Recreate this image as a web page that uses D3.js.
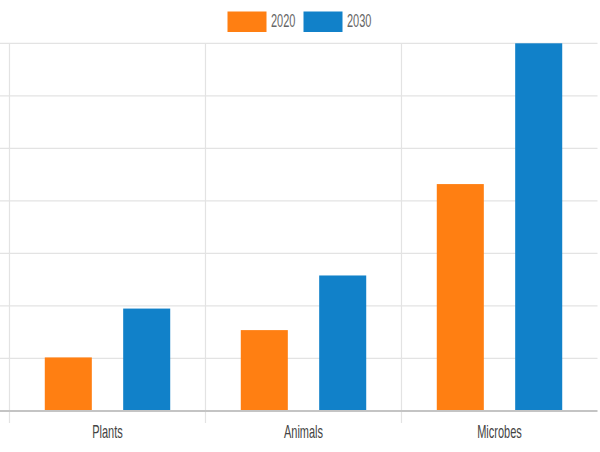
<!DOCTYPE html>
<html><head><meta charset="utf-8">
<script src="https://cdn.jsdelivr.net/npm/d3@7/dist/d3.min.js"></script>
<style>html,body{margin:0;padding:0;background:#fff;}svg{display:block;}</style>
</head><body>
<svg id="c" width="600" height="452"></svg>
<script>
const categories = ["Plants", "Animals", "Microbes"];
const seriesNames = ["2020", "2030"];
const values2020 = [10.2, 15.4, 43.2];
const values2030 = [19.5, 25.8, 70];
const yTicks = [0, 10, 20, 30, 40, 50, 60, 70];
const colors = ["#FF7F12", "#1181C9"];

const svg = d3.select("#c");
const plotLeft = 9.5, plotRight = 597.5, plotTop = 43.3, plotBottom = 411;

const x0 = d3.scaleBand().domain(categories).range([plotLeft, plotRight]).padding(0);
const bw = x0.bandwidth();
const x1 = d3.scaleBand().domain(seriesNames).range([bw * 0.1, bw * 0.9]).padding(0);
const y = d3.scaleLinear().domain([0, 70]).range([plotBottom, plotTop]);

// horizontal grid
svg.append("g").selectAll("line").data(yTicks.filter(d => d > 0)).join("line")
  .attr("x1", 0).attr("x2", plotRight)
  .attr("y1", d => y(d)).attr("y2", d => y(d))
  .attr("stroke", "#e3e3e3").attr("stroke-width", 1.2);

// vertical grid lines at category boundaries
const bounds = categories.map(c => x0(c));
svg.append("g").selectAll("line").data(bounds).join("line")
  .attr("x1", d => d).attr("x2", d => d)
  .attr("y1", plotTop).attr("y2", 423)
  .attr("stroke", "#e3e3e3").attr("stroke-width", 1.2);

// bars
const data = categories.map((c, i) => ({cat: c, vals: [values2020[i], values2030[i]]}));
const g = svg.append("g").selectAll("g").data(data).join("g")
  .attr("transform", d => `translate(${x0(d.cat)},0)`);
g.selectAll("rect").data(d => d.vals.map((v, j) => ({s: seriesNames[j], v, j}))).join("rect")
  .attr("x", d => x1(d.s) + x1.bandwidth() * 0.2)
  .attr("width", x1.bandwidth() * 0.6)
  .attr("y", d => y(d.v))
  .attr("height", d => y(0) - y(d.v))
  .attr("fill", d => colors[d.j]);

// baseline
svg.append("line").attr("x1", 0).attr("x2", plotRight)
  .attr("y1", y(0)).attr("y2", y(0))
  .attr("stroke", "#c4c4c4").attr("stroke-width", 2);

// x labels
svg.append("g").selectAll("text").data(categories).join("text")
  .attr("transform", d => `translate(${x0(d) + bw / 2},438) scale(1,1.6)`)
  .attr("text-anchor", "middle")
  .attr("font-family", "Liberation Sans, Arial, sans-serif")
  .attr("font-size", 11).attr("fill", "#444")
  .text(d => d);

// legend
const legendX = [227.5, 303.5];
const lg = svg.append("g").selectAll("g").data(seriesNames).join("g");
lg.append("rect")
  .attr("x", (d, i) => legendX[i]).attr("y", 11.5)
  .attr("width", 39).attr("height", 20.5)
  .attr("fill", (d, i) => colors[i]);
lg.append("text")
  .attr("transform", (d, i) => `translate(${legendX[i] + 43.5},26.7) scale(1,1.6)`)
  .attr("font-family", "Liberation Sans, Arial, sans-serif")
  .attr("font-size", 11).attr("fill", "#666")
  .text(d => d);
</script>
</body></html>
